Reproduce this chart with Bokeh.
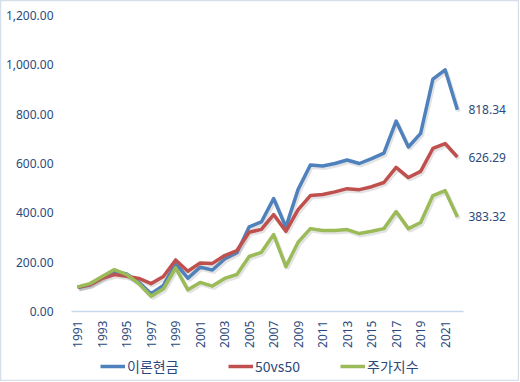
import math
from bokeh.plotting import figure
from bokeh.models import (ColumnDataSource, Legend, LegendItem, LabelSet, Range1d)
from bokeh.core.properties import value
from bokeh.transform import dodge
from bokeh.embed import file_html
from bokeh.resources import INLINE

years = list(range(1991, 2023))
theory_cash = [97, 108, 137, 163, 152, 118, 72, 106, 195, 135, 180, 168, 213, 238, 343, 363,
               458, 342, 495, 594, 590, 600, 614, 600, 620, 642, 772, 667, 722, 942, 980, 818.34]
fifty_fifty = [98, 108, 134, 150, 143, 134, 113, 142, 209, 163, 197, 195, 227, 247, 321, 333,
               393, 325, 413, 470, 474, 485, 498, 494, 506, 523, 584, 543, 568, 661, 681, 626.29]
stock_index = [100, 113, 142, 170, 150, 113, 62, 92, 177, 88, 118, 103, 134, 150, 223, 240,
               312, 182, 281, 336, 328, 328, 332, 316, 325, 336, 405, 336, 361, 470, 490, 383.32]
series_names = ["이론현금", "50vs50", "주가지수"]
colors = ["#4F81BD", "#C0504D", "#9BBB59"]
y_ticks = [0, 200, 400, 600, 800, 1000, 1200]
x_ticks = list(range(1991, 2022, 2))

TXT = "#2B4A7C"
W, H = 519, 381                    # chart box incl. its thin border
PLOT_L, PLOT_T = 71, 15            # pixel position of the value area
PLOT_W, PLOT_H = 392, 296          # pixel size of the category/value area
Y_MAX = 1200
LEGEND_X = [29, 157, 269]          # legend entry offsets from the value-area left edge (px)

x_lo = years[0] - 0.5
x_hi = years[-1] + 0.5
ppx = PLOT_W / (x_hi - x_lo)       # px per year
ppy = PLOT_H / Y_MAX               # px per unit
x_start = x_lo - PLOT_L / ppx
x_end = x_hi + (W - PLOT_L - PLOT_W) / ppx
y_top = Y_MAX + PLOT_T / ppy
y_bot = -(H - PLOT_T - PLOT_H) / ppy

p = figure(width=W, height=H, output_backend="svg", toolbar_location=None,
           x_range=Range1d(x_start, x_end), y_range=Range1d(y_bot, y_top),
           x_axis_location=None, y_axis_location=None,
           min_border_left=0, min_border_right=0, min_border_top=0, min_border_bottom=0)
p.outline_line_color = "#D5DFEC"
p.outline_line_width = 1.5
p.background_fill_color = "white"
p.border_fill_color = "white"
p.grid.visible = False

# value-axis labels
ytick_src = ColumnDataSource(dict(x=[x_lo] * len(y_ticks), y=y_ticks,
                                  t=["{:,.2f}".format(v) for v in y_ticks]))
p.add_layout(LabelSet(x="x", y="y", text="t", source=ytick_src, x_offset=-18,
                      text_align="right", text_baseline="middle",
                      text_font=value("Noto Sans"), text_font_size="12px", text_color=TXT))

# category axis baseline spanning only the category range
p.segment(x0=[x_lo], y0=[0], x1=[x_hi], y1=[0], line_color="#C8D7EA", line_width=1.5)

# category tick labels (every other year), rotated, below the baseline
tick_src = ColumnDataSource(dict(x=x_ticks, y=[0] * len(x_ticks), t=[str(t) for t in x_ticks]))
p.add_layout(LabelSet(x="x", y="y", text="t", source=tick_src, angle=math.pi / 2,
                      y_offset=-9, text_align="right", text_baseline="middle",
                      text_font=value("Noto Sans"), text_font_size="12px", text_color=TXT))

src = ColumnDataSource(dict(x=years, a=theory_cash, b=fifty_fifty, c=stock_index))

renderers = []
for col, color in zip(["a", "b", "c"], colors):
    p.line(x=dodge("x", 0.12, range=p.x_range), y=dodge(col, -8, range=p.y_range), source=src,
           line_color="#7F7F7F", line_alpha=0.22, line_width=4)
    renderers.append(p.line(x="x", y=col, source=src, line_color=color, line_width=3.5,
                            line_join="round"))

last = ColumnDataSource(dict(
    x=[years[-1]] * 3,
    y=[theory_cash[-1], fifty_fifty[-1], stock_index[-1]],
    t=["{:.2f}".format(v) for v in (theory_cash[-1], fifty_fifty[-1], stock_index[-1])]))
p.add_layout(LabelSet(x="x", y="y", text="t", source=last, x_offset=11, text_baseline="middle",
                      text_font=value("Noto Sans"), text_font_size="12px", text_color=TXT))

for name, r, lx in zip(series_names, renderers, LEGEND_X):
    lg = Legend(items=[LegendItem(label=name, renderers=[r])], orientation="horizontal",
                location=(PLOT_L + lx, 5),
                glyph_width=25, glyph_height=14, label_height=14, label_standoff=2,
                label_text_font="Noto Sans CJK KR", label_text_font_size="14px",
                label_text_color=TXT, border_line_color=None, background_fill_alpha=0,
                padding=0, margin=0)
    p.add_layout(lg, "center")

open("out.html", "w").write(file_html(p, INLINE))
